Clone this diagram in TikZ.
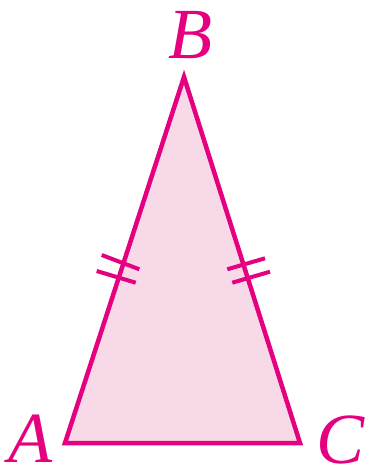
\documentclass[tikz,border=0pt]{standalone}
\usepackage{fontspec}
\setmainfont{Liberation Serif}
\definecolor{mag}{HTML}{E4007F}
\definecolor{pinkfill}{HTML}{F8D9E7}
\begin{document}
\begin{tikzpicture}[x=1pt,y=-1pt,
  edge/.style={draw=mag,line width=4.5pt},
  tick/.style={draw=mag,line width=4pt},
  lbl/.style={text=mag,font=\fontsize{72}{72}\selectfont\itshape,inner sep=0pt,anchor=base,text depth=0pt}]
\useasboundingbox (0,0) rectangle (366,469);
\coordinate (A) at (65,443);
\coordinate (B) at (184,77);
\coordinate (C) at (300,443);
\fill[pinkfill] (A) -- (B) -- (C) -- cycle;
\draw[edge] (A) -- (B) -- (C) -- cycle;
% ticks on AB
\coordinate (t1a) at (101.7,255);
\coordinate (t1b) at (139.3,269.3);
\coordinate (t2a) at (96.7,271);
\coordinate (t2b) at (135.7,282.7);
\draw[tick] (t1a) -- (t1b);
\draw[tick] (t2a) -- (t2b);
% ticks on BC
\coordinate (t3a) at (227.3,269.3);
\coordinate (t3b) at (265,258.3);
\coordinate (t4a) at (232.3,282.7);
\coordinate (t4b) at (270,271.7);
\draw[tick] (t3a) -- (t3b);
\draw[tick] (t4a) -- (t4b);
\node[lbl] (lB) at (190,58) {B};
\node[lbl] (lA) at (30,462) {A};
\node[lbl] (lC) at (341,463) {C};
\end{tikzpicture}
\end{document}
